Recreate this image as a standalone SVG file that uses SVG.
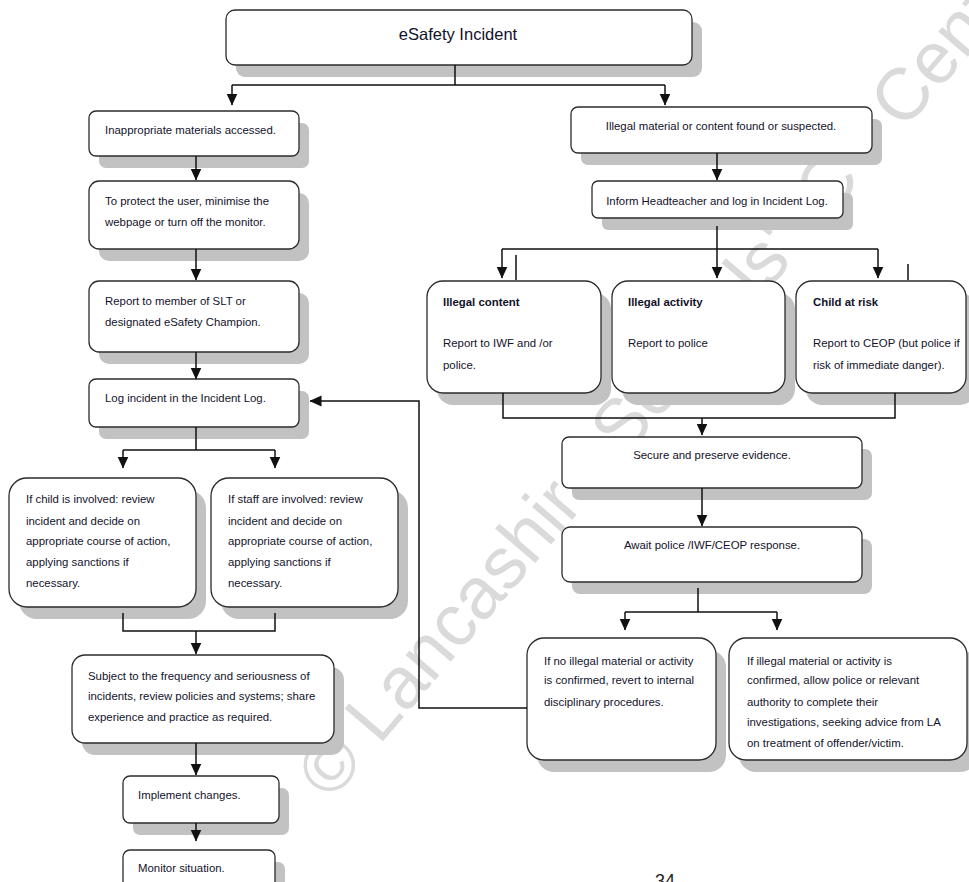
<svg xmlns="http://www.w3.org/2000/svg" width="969" height="882" viewBox="0 0 969 882">
<style>
.sh{fill:#c2c2c2}
.bx{fill:#fff;stroke:#2b2b2b;stroke-width:1.3}
text{font-family:"Liberation Sans",Arial,sans-serif;font-size:11.4px;fill:#12122a}
.b{font-weight:bold}
.c{text-anchor:middle}
.ln{fill:none;stroke:#111;stroke-width:1.5}
.ar{marker-end:url(#ah)}
.wm{font-size:73px;fill:#dadada}
</style>
<defs>
<marker id="ah" viewBox="0 0 12 12" refX="11.5" refY="6" markerWidth="12" markerHeight="12" orient="auto" markerUnits="userSpaceOnUse">
<path d="M0,0.5 L12,6 L0,11.5 Z" fill="#111"/>
</marker>
</defs>
<rect width="969" height="882" fill="#fff"/>
<text class="wm" transform="translate(331,802) rotate(-49.5)">© Lancashire Schools' ICT Centre</text>

<g id="n-top"><rect class="sh" x="236" y="22" width="466" height="55" rx="9"/><rect class="bx" x="226" y="10" width="466" height="55" rx="9"/><text class="c" x="458" y="40" style="font-size:16.5px">eSafety Incident</text></g>

<g id="n-inappropriate"><rect class="sh" x="99" y="123" width="210" height="45" rx="7"/><rect class="bx" x="89" y="111" width="210" height="45" rx="7"/><text x="105" y="134">Inappropriate materials accessed.</text></g>
<g id="n-protect"><rect class="sh" x="99" y="193" width="210" height="68" rx="10"/><rect class="bx" x="89" y="181" width="210" height="68" rx="10"/><text x="105" y="205">To protect the user, minimise the</text><text x="105" y="226">webpage or turn off the monitor.</text></g>
<g id="n-report-slt"><rect class="sh" x="99" y="293" width="210" height="71" rx="10"/><rect class="bx" x="89" y="281" width="210" height="71" rx="10"/><text x="105" y="305">Report to member of SLT or</text><text x="105" y="326">designated eSafety Champion.</text></g>
<g id="n-log"><rect class="sh" x="99" y="391" width="210" height="48" rx="7"/><rect class="bx" x="89" y="379" width="210" height="48" rx="7"/><text x="105" y="402">Log incident in the Incident Log.</text></g>
<g id="n-child"><rect class="sh" x="19" y="490" width="187" height="129" rx="18"/><rect class="bx" x="9" y="478" width="187" height="129" rx="18"/><text x="26" y="503">If child is involved: review</text><text x="26" y="525">incident and decide on</text><text x="26" y="545">appropriate course of action,</text><text x="26" y="566">applying sanctions if</text><text x="26" y="587">necessary.</text></g>
<g id="n-staff"><rect class="sh" x="221" y="490" width="187" height="129" rx="18"/><rect class="bx" x="211" y="478" width="187" height="129" rx="18"/><text x="228" y="503">If staff are involved: review</text><text x="228" y="525">incident and decide on</text><text x="228" y="545">appropriate course of action,</text><text x="228" y="566">applying sanctions if</text><text x="228" y="587">necessary.</text></g>
<g id="n-subject"><rect class="sh" x="82" y="667" width="262" height="88" rx="13"/><rect class="bx" x="72" y="655" width="262" height="88" rx="13"/><text x="88" y="680">Subject to the frequency and seriousness of</text><text x="88" y="700">incidents, review policies and systems; share</text><text x="88" y="721">experience and practice as required.</text></g>
<g id="n-implement"><rect class="sh" x="133" y="788" width="156" height="47" rx="7"/><rect class="bx" x="123" y="776" width="156" height="47" rx="7"/><text x="138" y="799">Implement changes.</text></g>
<g id="n-monitor"><rect class="sh" x="133" y="862" width="152" height="50" rx="7"/><rect class="bx" x="123" y="850" width="152" height="50" rx="7"/><text x="138" y="872">Monitor situation.</text></g>

<g id="n-illegal"><rect class="sh" x="581" y="119" width="301" height="46" rx="7"/><rect class="bx" x="571" y="107" width="301" height="46" rx="7"/><text class="c" x="721" y="130">Illegal material or content found or suspected.</text></g>
<g id="n-inform"><rect class="sh" x="602" y="193" width="251" height="37" rx="6"/><rect class="bx" x="592" y="181" width="251" height="37" rx="6"/><text class="c" x="717" y="205">Inform Headteacher and log in Incident Log.</text></g>
<g id="n-content"><rect class="sh" x="437" y="293" width="174" height="112" rx="16"/><rect class="bx" x="427" y="281" width="174" height="112" rx="16"/><text class="b" x="443" y="306">Illegal content</text><text x="443" y="347">Report to IWF and /or</text><text x="443" y="369">police.</text></g>
<g id="n-activity"><rect class="sh" x="622" y="293" width="173" height="112" rx="16"/><rect class="bx" x="612" y="281" width="173" height="112" rx="16"/><text class="b" x="628" y="306">Illegal activity</text><text x="628" y="347">Report to police</text></g>
<g id="n-risk"><rect class="sh" x="806" y="293" width="170" height="112" rx="16"/><rect class="bx" x="796" y="281" width="170" height="112" rx="16"/><text class="b" x="813" y="306">Child at risk</text><text x="813" y="347">Report to CEOP (but police if</text><text x="813" y="369">risk of immediate danger).</text></g>
<g id="n-secure"><rect class="sh" x="572" y="449" width="300" height="51" rx="7"/><rect class="bx" x="562" y="437" width="300" height="51" rx="7"/><text class="c" x="712" y="459">Secure and preserve evidence.</text></g>
<g id="n-await"><rect class="sh" x="572" y="539" width="300" height="55" rx="8"/><rect class="bx" x="562" y="527" width="300" height="55" rx="8"/><text class="c" x="712" y="549">Await police /IWF/CEOP response.</text></g>
<g id="n-no-illegal"><rect class="sh" x="537" y="650" width="189" height="122" rx="17"/><rect class="bx" x="527" y="638" width="189" height="122" rx="17"/><text x="544" y="665">If no illegal material or activity</text><text x="544" y="684">is confirmed, revert to internal</text><text x="544" y="706">disciplinary procedures.</text></g>
<g id="n-confirmed"><rect class="sh" x="739" y="650" width="238" height="122" rx="17"/><rect class="bx" x="729" y="638" width="238" height="122" rx="17"/><text x="747" y="665">If illegal material or activity is</text><text x="747" y="684">confirmed, allow police or relevant</text><text x="747" y="706">authority to complete their</text><text x="747" y="726">investigations, seeking advice from LA</text><text x="747" y="747">on treatment of offender/victim.</text></g>

<g id="connectors">
<path class="ln" d="M455,65 V85 M232,85 H665"/>
<path class="ln ar" d="M232,85 V105"/>
<path class="ln ar" d="M665,85 V105"/>
<path class="ln ar" d="M196,156 V180"/>
<path class="ln ar" d="M196,249 V280"/>
<path class="ln ar" d="M196,352 V379"/>
<path class="ln" d="M196,427 V450 M123,450 H275"/>
<path class="ln ar" d="M123,450 V468"/>
<path class="ln ar" d="M275,450 V468"/>
<path class="ln" d="M123,613 V631 H275 V613"/>
<path class="ln ar" d="M196,631 V654"/>
<path class="ln ar" d="M196,743 V775"/>
<path class="ln ar" d="M196,823 V841"/>
<path class="ln ar" d="M717,153 V180"/>
<path class="ln" d="M717,226 V249 M502,249 H878 M516,255 V280 M908,264 V280"/>
<path class="ln ar" d="M502,249 V278"/>
<path class="ln ar" d="M717,249 V278"/>
<path class="ln ar" d="M878,249 V278"/>
<path class="ln" d="M503,393 V418 H895 V393"/>
<path class="ln ar" d="M702,418 V435"/>
<path class="ln ar" d="M702,488 V526"/>
<path class="ln" d="M698,588 V612 M625,612 H777"/>
<path class="ln ar" d="M625,612 V630"/>
<path class="ln ar" d="M777,612 V630"/>
<path class="ln ar" d="M527,708 H419 V401 H310"/>
</g>
<text x="665" y="887" class="c" style="font-size:18px;fill:#222">34</text>
</svg>
